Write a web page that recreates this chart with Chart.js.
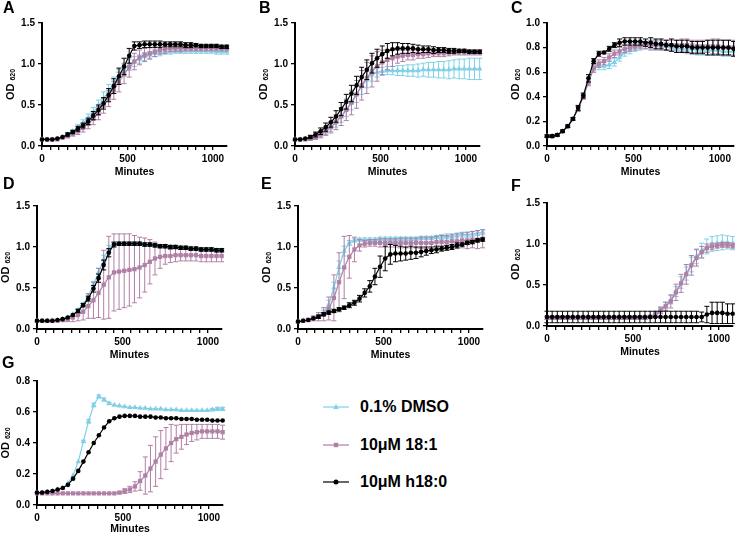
<!DOCTYPE html>
<html>
<head>
<meta charset="utf-8">
<script src="https://cdn.jsdelivr.net/npm/chart.js@4.4.0/dist/chart.umd.min.js"></script>
<style>
  html, body { margin: 0; padding: 0; background: #fff; }
  body { width: 735px; height: 534px; position: relative; overflow: hidden; font-family: Arial, "Liberation Sans", sans-serif; }
  .panel { position: absolute; }
  .letter { position: absolute; font-weight: bold; font-size: 16px; line-height: 16px; color: #000; }
  .legend-item { position: absolute; display: flex; align-items: center; font-weight: bold; font-size: 16px; color: #000; white-space: nowrap; }
  .legend-item svg { margin-right: 11px; }
</style>
</head>
<body>
<script>
// growth curves, OD620 every 30 min
const minutes = [0,30,60,90,120,150,180,210,240,270,300,330,360,390,420,450,480,510,540,570,600,630,660,690,720,750,780,810,840,870,900,930,960,990,1020,1050,1080];

const seriesNames = ['0.1% DMSO', '10μM 18:1', '10μM h18:0'];

// Panel A
const aDmso = [0.08,0.08,0.08,0.09,0.11,0.14,0.18,0.23,0.28,0.34,0.41,0.49,0.58,0.67,0.76,0.85,0.93,0.99,1.03,1.06,1.09,1.11,1.13,1.14,1.15,1.15,1.16,1.16,1.16,1.16,1.16,1.16,1.16,1.16,1.15,1.15,1.15];
const aDmsoSd = [0.01,0.01,0.01,0.01,0.01,0.02,0.02,0.03,0.04,0.05,0.06,0.07,0.08,0.08,0.08,0.08,0.08,0.07,0.06,0.05,0.05,0.04,0.04,0.04,0.03,0.03,0.03,0.03,0.03,0.03,0.03,0.03,0.03,0.03,0.03,0.03,0.03];
const aMauve = [0.08,0.08,0.08,0.08,0.10,0.12,0.15,0.18,0.22,0.27,0.33,0.40,0.49,0.58,0.68,0.78,0.88,0.96,1.03,1.08,1.11,1.13,1.15,1.17,1.18,1.19,1.19,1.19,1.19,1.19,1.19,1.19,1.19,1.19,1.19,1.19,1.19];
const aMauveSd = [0.01,0.01,0.01,0.01,0.01,0.02,0.03,0.04,0.05,0.06,0.07,0.08,0.09,0.10,0.11,0.12,0.12,0.12,0.10,0.09,0.08,0.07,0.06,0.05,0.05,0.04,0.04,0.04,0.03,0.03,0.03,0.03,0.03,0.03,0.03,0.03,0.03];
const aH180 = [0.08,0.08,0.08,0.09,0.11,0.14,0.17,0.21,0.25,0.30,0.37,0.44,0.52,0.62,0.73,0.85,0.97,1.10,1.22,1.23,1.24,1.24,1.24,1.24,1.24,1.24,1.24,1.24,1.23,1.23,1.23,1.22,1.22,1.22,1.22,1.21,1.21];
const aH180Sd = [0.01,0.01,0.01,0.01,0.01,0.02,0.02,0.03,0.03,0.04,0.05,0.06,0.07,0.08,0.09,0.10,0.10,0.09,0.05,0.04,0.04,0.04,0.04,0.04,0.03,0.03,0.03,0.03,0.03,0.03,0.02,0.02,0.02,0.02,0.02,0.02,0.02];

// Panel B
const bDmso = [0.08,0.08,0.08,0.09,0.11,0.14,0.18,0.23,0.29,0.36,0.44,0.53,0.63,0.73,0.81,0.87,0.90,0.91,0.92,0.92,0.92,0.92,0.92,0.92,0.92,0.93,0.93,0.93,0.93,0.93,0.93,0.94,0.94,0.94,0.94,0.94,0.94];
const bDmsoSd = [0.01,0.01,0.01,0.01,0.02,0.03,0.04,0.05,0.06,0.07,0.08,0.09,0.10,0.10,0.10,0.08,0.06,0.05,0.05,0.05,0.06,0.06,0.07,0.07,0.08,0.08,0.09,0.09,0.10,0.10,0.11,0.11,0.12,0.12,0.13,0.13,0.13];
const bMauve = [0.08,0.08,0.08,0.09,0.11,0.14,0.18,0.23,0.29,0.36,0.44,0.53,0.63,0.74,0.83,0.91,0.97,1.02,1.05,1.07,1.09,1.10,1.11,1.11,1.12,1.12,1.13,1.13,1.13,1.13,1.14,1.14,1.14,1.14,1.14,1.14,1.14];
const bMauveSd = [0.01,0.01,0.01,0.02,0.03,0.04,0.05,0.07,0.09,0.11,0.13,0.15,0.17,0.18,0.19,0.19,0.18,0.15,0.12,0.10,0.08,0.07,0.06,0.06,0.05,0.05,0.05,0.04,0.04,0.04,0.04,0.03,0.03,0.03,0.03,0.03,0.03];
const bH180 = [0.08,0.08,0.09,0.11,0.14,0.18,0.23,0.29,0.36,0.45,0.54,0.64,0.74,0.84,0.93,1.01,1.07,1.12,1.16,1.18,1.19,1.19,1.19,1.19,1.18,1.18,1.18,1.17,1.17,1.17,1.16,1.16,1.16,1.16,1.15,1.15,1.15];
const bH180Sd = [0.01,0.01,0.01,0.02,0.03,0.04,0.05,0.06,0.07,0.08,0.09,0.10,0.11,0.12,0.12,0.12,0.11,0.10,0.09,0.08,0.07,0.06,0.06,0.05,0.05,0.04,0.04,0.04,0.03,0.03,0.03,0.03,0.02,0.02,0.02,0.02,0.02];

// Panel C
const cDmso = [0.08,0.08,0.09,0.12,0.16,0.22,0.30,0.41,0.53,0.63,0.65,0.65,0.66,0.68,0.72,0.76,0.78,0.80,0.81,0.82,0.82,0.82,0.81,0.81,0.80,0.80,0.79,0.79,0.79,0.78,0.78,0.78,0.78,0.78,0.77,0.77,0.77];
const cDmsoSd = [0.01,0.01,0.01,0.01,0.01,0.01,0.02,0.02,0.03,0.03,0.03,0.03,0.03,0.03,0.03,0.03,0.03,0.03,0.03,0.03,0.03,0.03,0.03,0.03,0.03,0.03,0.03,0.04,0.04,0.04,0.04,0.04,0.04,0.04,0.04,0.04,0.04];
const cMauve = [0.08,0.08,0.09,0.12,0.16,0.22,0.30,0.40,0.52,0.63,0.67,0.69,0.72,0.75,0.77,0.79,0.80,0.81,0.82,0.82,0.82,0.82,0.82,0.82,0.82,0.82,0.82,0.82,0.81,0.81,0.81,0.81,0.81,0.81,0.80,0.80,0.80];
const cMauveSd = [0.01,0.01,0.01,0.01,0.01,0.01,0.02,0.02,0.03,0.03,0.03,0.03,0.03,0.03,0.03,0.03,0.03,0.03,0.03,0.03,0.04,0.04,0.04,0.04,0.04,0.04,0.05,0.05,0.05,0.05,0.05,0.05,0.06,0.06,0.06,0.06,0.06];
const cH180 = [0.08,0.08,0.09,0.12,0.16,0.22,0.31,0.41,0.55,0.69,0.75,0.76,0.79,0.82,0.84,0.85,0.85,0.85,0.85,0.84,0.84,0.83,0.83,0.82,0.82,0.81,0.81,0.81,0.80,0.80,0.80,0.80,0.80,0.80,0.80,0.80,0.79];
const cH180Sd = [0.01,0.01,0.01,0.01,0.01,0.01,0.02,0.02,0.03,0.02,0.02,0.01,0.02,0.02,0.03,0.03,0.03,0.03,0.03,0.03,0.04,0.04,0.04,0.04,0.05,0.05,0.05,0.05,0.05,0.05,0.05,0.06,0.06,0.06,0.06,0.06,0.06];

// Panel D
const dDmso = [0.10,0.10,0.10,0.10,0.11,0.12,0.14,0.18,0.23,0.30,0.40,0.54,0.69,0.85,0.98,1.03,1.04,1.04,1.04,1.04,1.04,1.03,1.03,1.02,1.01,1.01,1.00,1.00,0.99,0.99,0.98,0.98,0.97,0.97,0.97,0.96,0.96];
const dDmsoSd = [0.01,0.01,0.01,0.01,0.01,0.01,0.01,0.01,0.02,0.02,0.03,0.04,0.05,0.05,0.04,0.02,0.02,0.02,0.02,0.02,0.02,0.02,0.02,0.02,0.02,0.02,0.02,0.02,0.02,0.02,0.02,0.02,0.02,0.02,0.02,0.02,0.02];
const dMauve = [0.10,0.10,0.10,0.10,0.10,0.11,0.12,0.14,0.17,0.21,0.28,0.35,0.44,0.54,0.63,0.69,0.70,0.71,0.72,0.73,0.75,0.78,0.82,0.86,0.88,0.89,0.89,0.90,0.90,0.90,0.90,0.90,0.89,0.89,0.89,0.89,0.89];
const dMauveSd = [0.01,0.01,0.01,0.01,0.01,0.02,0.03,0.05,0.07,0.10,0.15,0.22,0.30,0.42,0.50,0.47,0.46,0.45,0.44,0.41,0.37,0.33,0.27,0.20,0.14,0.10,0.08,0.08,0.07,0.07,0.07,0.07,0.07,0.07,0.07,0.07,0.07];
const dH180 = [0.10,0.10,0.10,0.10,0.11,0.12,0.14,0.17,0.22,0.29,0.37,0.49,0.62,0.78,0.93,1.03,1.04,1.04,1.04,1.04,1.04,1.03,1.03,1.02,1.01,1.01,1.00,1.00,0.99,0.99,0.98,0.98,0.97,0.97,0.97,0.96,0.96];
const dH180Sd = [0.01,0.01,0.01,0.01,0.01,0.01,0.01,0.01,0.02,0.02,0.03,0.04,0.05,0.06,0.05,0.03,0.02,0.02,0.02,0.02,0.02,0.02,0.02,0.02,0.02,0.02,0.02,0.02,0.02,0.02,0.02,0.02,0.02,0.02,0.02,0.02,0.02];

// Panel E
const eDmso = [0.09,0.10,0.11,0.13,0.16,0.20,0.30,0.50,0.75,0.95,1.05,1.08,1.09,1.09,1.09,1.09,1.10,1.10,1.10,1.10,1.10,1.10,1.10,1.10,1.11,1.11,1.11,1.12,1.12,1.13,1.13,1.14,1.15,1.15,1.16,1.17,1.18];
const eDmsoSd = [0.01,0.01,0.01,0.02,0.02,0.03,0.05,0.07,0.08,0.06,0.03,0.02,0.02,0.02,0.02,0.02,0.02,0.02,0.02,0.02,0.02,0.02,0.02,0.02,0.02,0.02,0.02,0.02,0.03,0.03,0.03,0.03,0.03,0.03,0.03,0.03,0.03];
const eMauve = [0.09,0.10,0.11,0.13,0.15,0.18,0.25,0.38,0.57,0.75,0.88,0.97,1.02,1.04,1.05,1.05,1.05,1.05,1.05,1.05,1.05,1.05,1.05,1.05,1.05,1.05,1.05,1.06,1.06,1.06,1.07,1.07,1.08,1.08,1.09,1.09,1.10];
const eMauveSd = [0.01,0.01,0.02,0.03,0.05,0.08,0.14,0.28,0.36,0.38,0.26,0.15,0.07,0.04,0.04,0.04,0.05,0.05,0.05,0.05,0.06,0.06,0.06,0.06,0.07,0.07,0.07,0.07,0.08,0.08,0.08,0.09,0.09,0.10,0.10,0.11,0.11];
const eH180 = [0.09,0.10,0.11,0.13,0.15,0.18,0.20,0.22,0.24,0.26,0.29,0.32,0.37,0.44,0.52,0.64,0.76,0.86,0.91,0.92,0.92,0.92,0.93,0.93,0.94,0.95,0.96,0.97,0.98,0.99,1.00,1.02,1.03,1.05,1.06,1.08,1.09];
const eH180Sd = [0.01,0.01,0.01,0.01,0.02,0.02,0.02,0.02,0.02,0.02,0.03,0.03,0.04,0.05,0.07,0.10,0.13,0.15,0.12,0.10,0.09,0.08,0.08,0.07,0.06,0.05,0.04,0.04,0.03,0.03,0.03,0.03,0.02,0.02,0.02,0.02,0.02];

// Panel F
const fDmso = [0.10,0.10,0.10,0.10,0.10,0.10,0.10,0.10,0.10,0.10,0.10,0.10,0.10,0.10,0.10,0.10,0.10,0.10,0.10,0.10,0.11,0.15,0.20,0.25,0.32,0.42,0.53,0.64,0.75,0.85,0.92,0.97,1.00,1.01,1.02,1.02,1.01];
const fDmsoSd = [0.02,0.02,0.02,0.02,0.02,0.02,0.02,0.02,0.02,0.02,0.02,0.02,0.02,0.02,0.02,0.02,0.02,0.02,0.02,0.02,0.02,0.03,0.03,0.04,0.05,0.06,0.07,0.08,0.09,0.09,0.09,0.09,0.09,0.09,0.09,0.08,0.08];
const fMauve = [0.10,0.10,0.10,0.10,0.10,0.10,0.10,0.10,0.10,0.10,0.10,0.10,0.10,0.10,0.10,0.10,0.10,0.10,0.10,0.10,0.11,0.14,0.19,0.24,0.30,0.41,0.52,0.63,0.74,0.83,0.90,0.95,0.97,0.98,0.99,0.99,0.98];
const fMauveSd = [0.02,0.02,0.02,0.02,0.02,0.02,0.02,0.02,0.02,0.02,0.02,0.02,0.02,0.02,0.02,0.02,0.02,0.02,0.02,0.02,0.02,0.03,0.04,0.05,0.08,0.10,0.11,0.12,0.12,0.10,0.07,0.05,0.04,0.03,0.03,0.03,0.03];
const fH180 = [0.11,0.11,0.11,0.11,0.11,0.11,0.11,0.11,0.11,0.11,0.11,0.11,0.11,0.11,0.11,0.11,0.11,0.11,0.11,0.11,0.11,0.11,0.11,0.11,0.11,0.11,0.11,0.11,0.11,0.11,0.11,0.14,0.16,0.16,0.16,0.15,0.15];
const fH180Sd = [0.07,0.07,0.07,0.07,0.07,0.07,0.07,0.07,0.07,0.07,0.07,0.07,0.07,0.07,0.07,0.07,0.07,0.07,0.07,0.07,0.07,0.07,0.07,0.07,0.07,0.07,0.07,0.07,0.07,0.07,0.06,0.10,0.13,0.13,0.13,0.12,0.12];

// Panel G
const gDmso = [0.08,0.08,0.085,0.09,0.10,0.11,0.14,0.19,0.28,0.41,0.54,0.645,0.70,0.68,0.655,0.645,0.64,0.635,0.63,0.63,0.625,0.625,0.62,0.62,0.62,0.615,0.615,0.615,0.61,0.61,0.61,0.61,0.61,0.61,0.615,0.62,0.62];
const gDmsoSd = [0.003,0.003,0.003,0.003,0.003,0.003,0.003,0.003,0.005,0.008,0.012,0.012,0.01,0.01,0.008,0.005,0.005,0.005,0.005,0.005,0.005,0.005,0.005,0.005,0.005,0.005,0.005,0.005,0.005,0.005,0.005,0.005,0.005,0.005,0.008,0.01,0.01];
const gMauve = [0.075,0.075,0.075,0.075,0.075,0.075,0.075,0.075,0.075,0.075,0.075,0.075,0.075,0.075,0.075,0.075,0.08,0.09,0.10,0.12,0.155,0.19,0.235,0.28,0.325,0.365,0.40,0.425,0.44,0.455,0.465,0.47,0.475,0.475,0.475,0.475,0.47];
const gMauveSd = [0.003,0.003,0.003,0.003,0.003,0.003,0.003,0.003,0.003,0.003,0.003,0.003,0.003,0.003,0.003,0.005,0.008,0.015,0.02,0.03,0.06,0.12,0.15,0.16,0.155,0.135,0.12,0.09,0.08,0.065,0.055,0.05,0.045,0.045,0.045,0.045,0.045];
const gH180 = [0.08,0.08,0.085,0.09,0.10,0.11,0.13,0.17,0.22,0.28,0.34,0.40,0.45,0.50,0.54,0.56,0.57,0.575,0.575,0.575,0.57,0.57,0.57,0.565,0.565,0.56,0.56,0.56,0.555,0.555,0.555,0.55,0.55,0.55,0.545,0.545,0.545];
const gH180Sd = [0.003,0.003,0.003,0.003,0.003,0.003,0.003,0.003,0.003,0.003,0.003,0.003,0.003,0.003,0.003,0.003,0.003,0.003,0.003,0.003,0.003,0.003,0.003,0.003,0.003,0.003,0.003,0.003,0.003,0.003,0.003,0.003,0.003,0.003,0.003,0.003,0.003];

const panels = [
    { letter: 'A', yMax: 1.5, yStep: 0.5, means: [aDmso, aMauve, aH180], sds: [aDmsoSd, aMauveSd, aH180Sd] },
    { letter: 'B', yMax: 1.5, yStep: 0.5, means: [bDmso, bMauve, bH180], sds: [bDmsoSd, bMauveSd, bH180Sd] },
    { letter: 'C', yMax: 1.0, yStep: 0.2, means: [cDmso, cMauve, cH180], sds: [cDmsoSd, cMauveSd, cH180Sd] },
    { letter: 'D', yMax: 1.5, yStep: 0.5, means: [dDmso, dMauve, dH180], sds: [dDmsoSd, dMauveSd, dH180Sd] },
    { letter: 'E', yMax: 1.5, yStep: 0.5, means: [eDmso, eMauve, eH180], sds: [eDmsoSd, eMauveSd, eH180Sd] },
    { letter: 'F', yMax: 1.5, yStep: 0.5, means: [fDmso, fMauve, fH180], sds: [fDmsoSd, fMauveSd, fH180Sd] },
    { letter: 'G', yMax: 0.8, yStep: 0.2, means: [gDmso, gMauve, gH180], sds: [gDmsoSd, gMauveSd, gH180Sd] }
];

// styling / placement (plot area edges in page pixels)
const seriesColors = ['#7fd0e6', '#b07fa5', '#000000'];
const seriesMarkers = ['triangle', 'rect', 'circle'];
const markerRadius = [3.2, 3.0, 2.3];
const layout = {
    A: { L: 42,  R: 227, T: 23,  B: 146, xh: 32, lx: 3,   ly: 0 },
    B: { L: 295, R: 480, T: 23,  B: 146, xh: 32, lx: 259, ly: 0 },
    C: { L: 547, R: 734, T: 23,  B: 146, xh: 32, lx: 511, ly: 0 },
    D: { L: 37,  R: 222, T: 206, B: 329, xh: 32, lx: 3,   ly: 176 },
    E: { L: 298, R: 483, T: 206, B: 329, xh: 32, lx: 261, ly: 176 },
    F: { L: 547, R: 733, T: 203, B: 326, xh: 32, lx: 511, ly: 178 },
    G: { L: 37,  R: 223, T: 381, B: 505, xh: 30, lx: 2,   ly: 355 }
};
const Y_W = 38, PAD_T = 10, PAD_R = 10;
const FONT = 'Arial, "Liberation Sans", sans-serif';

Chart.defaults.font.family = FONT;
Chart.defaults.color = '#000';

// mean +/- SD bars, drawn under each dataset's line and markers
const errorBars = {
    id: 'errorBars',
    beforeDatasetDraw(chart, args) {
        const ds = chart.data.datasets[args.index];
        if (!ds.sd) return;
        const ctx = chart.ctx;
        const yScale = chart.scales.y;
        ctx.save();
        ctx.strokeStyle = ds.borderColor;
        ctx.lineWidth = 1;
        args.meta.data.forEach((pt, i) => {
            const v = ds.data[i].y, s = ds.sd[i];
            const top = yScale.getPixelForValue(v + s);
            const bot = yScale.getPixelForValue(v - s);
            if (bot - top < 2) return;
            ctx.beginPath();
            ctx.moveTo(pt.x, top); ctx.lineTo(pt.x, bot);
            ctx.moveTo(pt.x - 2.5, top); ctx.lineTo(pt.x + 2.5, top);
            ctx.moveTo(pt.x - 2.5, bot); ctx.lineTo(pt.x + 2.5, bot);
            ctx.stroke();
        });
        ctx.restore();
    }
};

// "OD 620" with the wavelength as subscript
const yTitle = {
    id: 'yTitle',
    afterDraw(chart) {
        const ctx = chart.ctx;
        const area = chart.chartArea;
        ctx.save();
        ctx.translate(area.left - 31, (area.top + area.bottom) / 2);
        ctx.rotate(-Math.PI / 2);
        ctx.fillStyle = '#000';
        ctx.textBaseline = 'middle';
        ctx.font = 'bold 11px ' + FONT;
        const w1 = ctx.measureText('OD').width;
        ctx.font = 'bold 7px ' + FONT;
        const w2 = ctx.measureText('620').width;
        const start = -(w1 + 3 + w2) / 2;
        ctx.font = 'bold 11px ' + FONT;
        ctx.fillText('OD', start, 0);
        ctx.font = 'bold 7px ' + FONT;
        ctx.fillText('620', start + w1 + 3, 2);
        ctx.restore();
    }
};

function makePanel(p) {
    const box = layout[p.letter];
    const w = Y_W + (box.R - box.L) + PAD_R;
    const h = PAD_T + (box.B - box.T) + box.xh;

    const wrap = document.createElement('div');
    wrap.className = 'panel';
    wrap.style.left = (box.L - Y_W) + 'px';
    wrap.style.top = (box.T - PAD_T) + 'px';
    wrap.style.width = w + 'px';
    wrap.style.height = h + 'px';
    const canvas = document.createElement('canvas');
    canvas.width = w;
    canvas.height = h;
    wrap.appendChild(canvas);
    document.body.appendChild(wrap);

    const letter = document.createElement('div');
    letter.className = 'letter';
    letter.textContent = p.letter;
    letter.style.left = box.lx + 'px';
    letter.style.top = box.ly + 'px';
    document.body.appendChild(letter);

    const datasets = p.means.map((vals, k) => ({
        label: seriesNames[k],
        data: minutes.map((t, i) => ({ x: t, y: vals[i] })),
        sd: p.sds[k],
        borderColor: seriesColors[k],
        backgroundColor: seriesColors[k],
        pointStyle: seriesMarkers[k],
        pointRadius: markerRadius[k],
        pointBorderWidth: 0,
        borderWidth: 1.2,
        tension: 0,
        order: 3 - k,
        clip: false
    }));

    new Chart(canvas, {
        type: 'line',
        data: { datasets: datasets },
        options: {
            responsive: false,
            animation: false,
            events: [],
            devicePixelRatio: 1,
            layout: { padding: { left: 0, top: PAD_T, right: PAD_R, bottom: 0 } },
            plugins: { legend: { display: false }, tooltip: { enabled: false } },
            scales: {
                x: {
                    type: 'linear',
                    min: 0,
                    max: 1082,
                    afterBuildTicks: s => { s.ticks = s.ticks.filter(t => t.value % 50 === 0); },
                    afterFit: s => { s.height = box.xh; },
                    ticks: {
                        stepSize: 50,
                        autoSkip: false,
                        maxRotation: 0,
                        padding: 3,
                        font: { size: 10, weight: 'bold' },
                        callback: v => (v % 500 === 0 ? v : '')
                    },
                    grid: { drawOnChartArea: false, drawTicks: true, tickLength: 4, color: '#000', lineWidth: 1.3 },
                    border: { color: '#000', width: 2 },
                    title: { display: true, text: 'Minutes', font: { size: 10.5, weight: 'bold' }, padding: 0 }
                },
                y: {
                    min: 0,
                    max: p.yMax,
                    afterFit: s => { s.width = Y_W; },
                    ticks: {
                        stepSize: p.yStep,
                        padding: 3,
                        font: { size: 10, weight: 'bold' },
                        callback: v => v.toFixed(1)
                    },
                    grid: { drawOnChartArea: false, drawTicks: true, tickLength: 4, color: '#000', lineWidth: 1.3 },
                    border: { color: '#000', width: 2 }
                }
            }
        },
        plugins: [errorBars, yTitle]
    });
}

function drawMarker(k) {
    const c = seriesColors[k];
    let mark;
    if (seriesMarkers[k] === 'triangle') mark = `<polygon points="13,2.8 15.9,8 10.1,8" fill="${c}"/>`;
    else if (seriesMarkers[k] === 'rect') mark = `<rect x="10.8" y="3.8" width="4.4" height="4.4" fill="${c}"/>`;
    else mark = `<circle cx="13" cy="6" r="2.5" fill="${c}"/>`;
    return `<svg width="26" height="12"><line x1="0" y1="6" x2="26" y2="6" stroke="${c}" stroke-width="1.2"/>${mark}</svg>`;
}

function makeLegend() {
    const rows = [407, 445, 482];
    seriesNames.forEach((name, k) => {
        const item = document.createElement('div');
        item.className = 'legend-item';
        item.style.left = '323px';
        item.style.top = (rows[k] - 10) + 'px';
        item.style.height = '20px';
        item.innerHTML = drawMarker(k) + '<span></span>';
        item.querySelector('span').textContent = name;
        document.body.appendChild(item);
    });
}

panels.forEach(makePanel);
makeLegend();
</script>
</body>
</html>
